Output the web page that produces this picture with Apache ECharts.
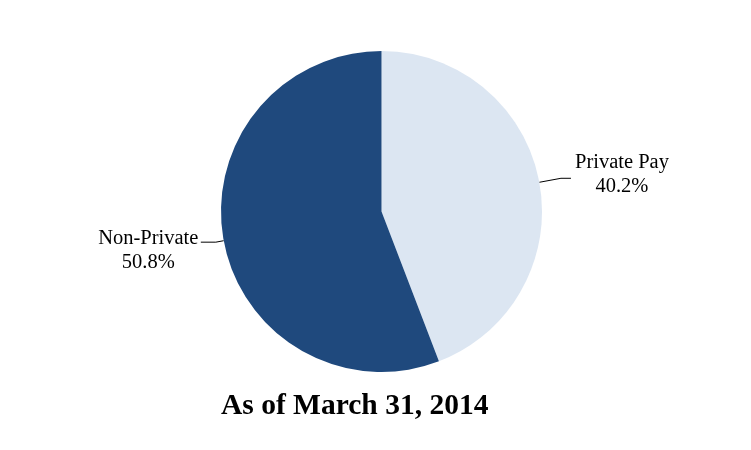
<!DOCTYPE html>
<html>
<head>
<meta charset="utf-8">
<script src="https://cdn.jsdelivr.net/npm/echarts@6/dist/echarts.min.js"></script>
<style>
html,body{margin:0;padding:0;background:#fff;}
#c{width:751px;height:450px;}
</style>
</head>
<body>
<div id="c"></div>
<script>
var categories = ['Private Pay', 'Non-Private'];
var values = [40.2, 50.8];
var colors = ['#DCE6F2', '#1F497D'];
var titleText = 'As of March 31, 2014';

var chart = echarts.init(document.getElementById('c'), null, {renderer: 'canvas'});
var itemOpts = [
  {labelLine: {length: 22, length2: 10}, label: {padding: [0, 0, 7, 0], distanceToLabelLine: 4, rich: {t: {width: 94}}}},
  {labelLine: {length: 8, length2: 15}, label: {padding: [17, 0, 0, 0], distanceToLabelLine: 2, rich: {t: {width: 101}}}}
];
var data = categories.map(function (name, i) {
  return {
    name: name,
    value: values[i],
    itemStyle: {color: colors[i]},
    labelLine: itemOpts[i].labelLine,
    label: itemOpts[i].label
  };
});
chart.setOption({
  backgroundColor: '#ffffff',
  animation: false,
  title: {
    text: titleText,
    left: 216,
    top: 386,
    textStyle: {fontFamily: 'Liberation Serif', fontSize: 29.5, fontWeight: 'bold', color: '#000'}
  },
  series: [{
    type: 'pie',
    center: [381.5, 211.5],
    radius: 160.5,
    startAngle: 90,
    clockwise: true,
    data: data,
    label: {
      show: true,
      position: 'outside',
      formatter: '{t|{b}}\n{t|{c}%}',
      fontFamily: 'Liberation Serif',
      fontSize: 20.5,
      lineHeight: 24,
      color: '#000',
      rich: {
        t: {align: 'center', fontFamily: 'Liberation Serif', fontSize: 20.5, lineHeight: 24, color: '#000'}
      }
    },
    labelLine: {
      show: true,
      smooth: false,
      lineStyle: {color: '#000', width: 1}
    },
    emphasis: {disabled: true}
  }]
});
</script>
</body>
</html>
